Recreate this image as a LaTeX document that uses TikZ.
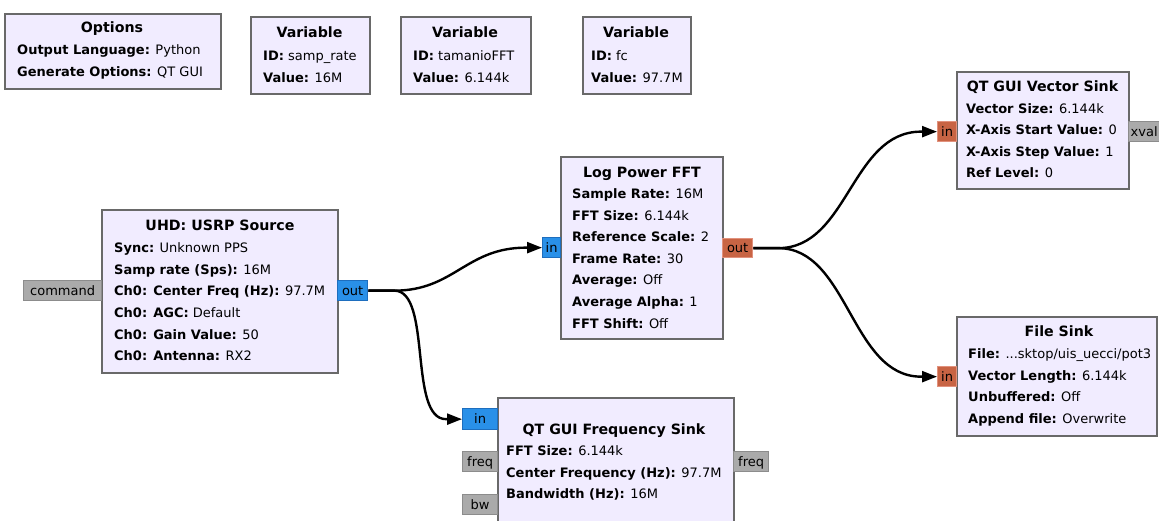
\documentclass[tikz,border=0pt]{standalone}
\usepackage{fontspec}
\setmainfont{DejaVu Sans}
\usetikzlibrary{arrows.meta}
\definecolor{blockfill}{RGB}{241,236,255}
\definecolor{boxgray}{RGB}{105,105,105}
\definecolor{pblue}{RGB}{41,144,232}
\definecolor{pblueb}{RGB}{30,110,190}
\definecolor{porange}{RGB}{200,100,68}
\definecolor{porangeb}{RGB}{225,145,125}
\definecolor{pgray}{RGB}{170,170,170}
\definecolor{pgrayb}{RGB}{140,140,140}
\newcommand{\ttlfont}{\fontsize{14.2}{16}\selectfont\bfseries}
\newcommand{\prmfont}{\fontsize{13}{15}\selectfont}
\tikzset{
  blockbox/.style={draw=boxgray, line width=2pt, fill=blockfill, anchor=north west, inner sep=0},
  ttl/.style={font=\ttlfont, anchor=base, inner sep=0},
  prm/.style={font=\prmfont, anchor=base west, inner sep=0},
  portbase/.style={anchor=north west, inner sep=0, line width=1.3pt, font=\prmfont, text height=9.5pt, text depth=0.5pt},
  portblue/.style={portbase, fill=pblue, draw=pblueb},
  portorange/.style={portbase, fill=porange, draw=porangeb},
  portgray/.style={portbase, fill=pgray, draw=pgrayb},
  conn/.style={line width=2.4pt, -{Triangle[length=15pt,width=11pt]}}
}
\begin{document}
\begin{tikzpicture}[x=1pt,y=-1pt]
\useasboundingbox (0,0) rectangle (1159,521);

% ---- Options ----
\node[blockbox, minimum width=216pt, minimum height=75pt] (opt) at (4,13) {};
\node[ttl] (optt) at (112,32.7) {Options};
\node[prm] (opt1) at (17,54.7) {\textbf{Output Language:} Python};
\node[prm] (opt2) at (17,76.5) {\textbf{Generate Options:} QT GUI};

% ---- Variables ----
\node[blockbox, minimum width=119pt, minimum height=77pt] (v1) at (250,16) {};
\node[ttl] (v1t) at (309.5,37.5) {Variable};
\node[prm] (v1a) at (263,60.5) {\textbf{ID:} samp\_rate};
\node[prm] (v1b) at (263,82.5) {\textbf{Value:} 16M};

\node[blockbox, minimum width=130pt, minimum height=77pt] (v2) at (400,16) {};
\node[ttl] (v2t) at (465,37.5) {Variable};
\node[prm] (v2a) at (413,60.5) {\textbf{ID:} tamanioFFT};
\node[prm] (v2b) at (413,82.5) {\textbf{Value:} 6.144k};

\node[blockbox, minimum width=108pt, minimum height=77pt] (v3) at (582,16) {};
\node[ttl] (v3t) at (636,37.5) {Variable};
\node[prm] (v3a) at (591,60.5) {\textbf{ID:} fc};
\node[prm] (v3b) at (591,82.5) {\textbf{Value:} 97.7M};

% ---- UHD: USRP Source ----
\node[blockbox, minimum width=236pt, minimum height=163pt] (usrp) at (101,209) {};
\node[ttl] (usrpt) at (220,231) {UHD: USRP Source};
\node[prm] (u1) at (114,253) {\textbf{Sync:} Unknown PPS};
\node[prm] (u2) at (114,274.5) {\textbf{Samp rate (Sps):} 16M};
\node[prm] (u3) at (114,296) {\textbf{Ch0: Center Freq (Hz):} 97.7M};
\node[prm] (u4) at (114,317.5) {\textbf{Ch0: AGC:} Default};
\node[prm] (u5) at (114,339) {\textbf{Ch0: Gain Value:} 50};
\node[prm] (u6) at (114,360.5) {\textbf{Ch0: Antenna:} RX2};
\node[portgray, minimum width=78pt, minimum height=20pt] (ucmd) at (23,280) {command};
\node[portblue, minimum width=30pt, minimum height=20pt] (uout) at (337,280) {out};

% ---- Log Power FFT ----
\node[blockbox, minimum width=162pt, minimum height=182pt] (lfft) at (560,156) {};
\node[ttl] (lfftt) at (642,177.7) {Log Power FFT};
\node[prm] (l1) at (572,199) {\textbf{Sample Rate:} 16M};
\node[prm] (l2) at (572,220.5) {\textbf{FFT Size:} 6.144k};
\node[prm] (l3) at (572,242) {\textbf{Reference Scale:} 2};
\node[prm] (l4) at (572,263.5) {\textbf{Frame Rate:} 30};
\node[prm] (l5) at (572,285) {\textbf{Average:} Off};
\node[prm] (l6) at (572,306.5) {\textbf{Average Alpha:} 1};
\node[prm] (l7) at (572,328) {\textbf{FFT Shift:} Off};
\node[portblue, minimum width=18pt, minimum height=20pt] (lin) at (542,237) {in};
\node[portorange, minimum width=30pt, minimum height=19pt] (lout) at (722,238) {out};

% ---- QT GUI Vector Sink ----
\node[blockbox, minimum width=172pt, minimum height=117pt] (vs) at (956,71) {};
\node[ttl] (vst) at (1042.5,91.7) {QT GUI Vector Sink};
\node[prm] (vs1) at (966,113.5) {\textbf{Vector Size:} 6.144k};
\node[prm] (vs2) at (966,135) {\textbf{X-Axis Start Value:} 0};
\node[prm] (vs3) at (966,156.5) {\textbf{X-Axis Step Value:} 1};
\node[prm] (vs4) at (966,178) {\textbf{Ref Level:} 0};
\node[portorange, minimum width=19pt, minimum height=20pt] (vsin) at (937,121) {in};
\node[portgray, minimum width=40pt, minimum height=20pt, text width=36pt, align=left] (vsx) at (1128,121) {xval};

% ---- File Sink ----
\node[blockbox, minimum width=200pt, minimum height=119pt] (fs) at (956,316) {};
\node[ttl] (fst) at (1059,336.7) {File Sink};
\node[prm] (fs1) at (968,358.5) {\textbf{File:} ...sktop/uis\_uecci/pot3};
\node[prm] (fs2) at (968,380) {\textbf{Vector Length:} 6.144k};
\node[prm] (fs3) at (968,401.5) {\textbf{Unbuffered:} Off};
\node[prm] (fs4) at (968,423) {\textbf{Append file:} Overwrite};
\node[portorange, minimum width=19pt, minimum height=20pt] (fsin) at (937,366) {in};

% ---- QT GUI Frequency Sink ----
\node[blockbox, minimum width=236pt, minimum height=140pt] (qf) at (497,397) {};
\node[ttl] (qft) at (614,434) {QT GUI Frequency Sink};
\node[prm] (qf1) at (506,455.5) {\textbf{FFT Size:} 6.144k};
\node[prm] (qf2) at (506,477) {\textbf{Center Frequency (Hz):} 97.7M};
\node[prm] (qf3) at (506,498.5) {\textbf{Bandwidth (Hz):} 16M};
\node[portblue, minimum width=35pt, minimum height=21pt] (qfin) at (462,408) {in};
\node[portgray, minimum width=35pt, minimum height=20pt] (qffreq) at (462,451) {freq};
\node[portgray, minimum width=35pt, minimum height=20pt] (qfbw) at (462,494) {bw};
\node[portgray, minimum width=35pt, minimum height=20pt] (qffreqo) at (733,451) {freq};

% ---- connections ----
\draw[conn] (uout.east) -- ++(26,0) .. controls +(60,0) and +(-60,0) .. ([xshift=-16pt]lin.west) -- (lin.west);
\draw[conn] (uout.east) -- ++(26,0) .. controls +(38,0) and +(-38,0) .. ([xshift=-16pt]qfin.west) -- (qfin.west);
\draw[conn] (lout.east) -- ++(25,0) .. controls +(70,0) and +(-70,0) .. ([xshift=-16pt]vsin.west) -- (vsin.west);
\draw[conn] (lout.east) -- ++(25,0) .. controls +(70,0) and +(-70,0) .. ([xshift=-16pt]fsin.west) -- (fsin.west);
\end{tikzpicture}
\end{document}
